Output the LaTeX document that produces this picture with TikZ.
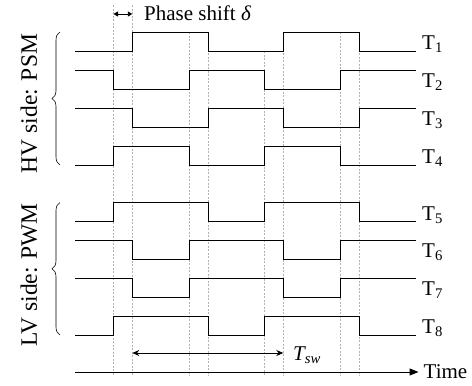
\documentclass[tikz,border=0pt]{standalone}
\usepackage{fontspec}
\setmainfont{Liberation Serif}
\usetikzlibrary{arrows.meta,decorations.pathreplacing}
\begin{document}
\begin{tikzpicture}[x=1pt,y=-1pt,
  sig/.style={line width=1pt,black},
  guide/.style={gray!60,line width=0.5pt,dash pattern=on 2pt off 1.5pt},
  lbl/.style={anchor=west,inner sep=0pt,font=\fontsize{21}{23}\selectfont},
  side/.style={rotate=90,inner sep=0pt,font=\fontsize{23.5}{26}\selectfont},
  bracestyle/.style={decorate,decoration={brace,amplitude=8pt},line width=0.6pt}]
\useasboundingbox (0,0) rectangle (472,386);
% edge positions
\def\xa{113.5}\def\xb{132.3}\def\xc{189}\def\xd{208.3}
\def\xe{264.5}\def\xf{283.3}\def\xg{340}\def\xh{359.3}
\def\xs{75}\def\xt{416}
% guide lines
\draw[guide] (\xa,5) -- (\xa,376);
\draw[guide] (\xb,5) -- (\xb,376);
\draw[guide] (\xc,32) -- (\xc,376);
\draw[guide] (\xd,32) -- (\xd,376);
\draw[guide] (\xe,51) -- (\xe,376);
\draw[guide] (\xf,32) -- (\xf,376);
\draw[guide] (\xg,32) -- (\xg,376);
\draw[guide] (\xh,32) -- (\xh,376);
% T1: low, rise b, fall d, rise f, fall h
\draw[sig] (\xs,51) -| (\xb,32) -| (\xd,51) -| (\xf,32) -| (\xh,51) -- (\xt,51);
% T2: high, fall a, rise c, fall e, rise g
\draw[sig] (\xs,70) -| (\xa,89) -| (\xc,70) -| (\xe,89) -| (\xg,70) -- (\xt,70);
% T3
\draw[sig] (\xs,108) -| (\xb,127) -| (\xd,108) -| (\xf,127) -| (\xh,108) -- (\xt,108);
% T4
\draw[sig] (\xs,165) -| (\xa,146) -| (\xc,165) -| (\xe,146) -| (\xg,165) -- (\xt,165);
% T5: low, rise a, fall d, rise e, fall h
\draw[sig] (\xs,221.5) -| (\xa,202.5) -| (\xd,221.5) -| (\xe,202.5) -| (\xh,221.5) -- (\xt,221.5);
% T6: high, fall b, rise c, fall f, rise g
\draw[sig] (\xs,240) -| (\xb,259) -| (\xc,240) -| (\xf,259) -| (\xg,240) -- (\xt,240);
% T7
\draw[sig] (\xs,278) -| (\xb,297) -| (\xc,278) -| (\xf,297) -| (\xg,278) -- (\xt,278);
% T8
\draw[sig] (\xs,335) -| (\xa,316) -| (\xd,335) -| (\xe,316) -| (\xh,335) -- (\xt,335);
% labels
\node[lbl] (l1) at (422,44) {T\textsubscript{1}};
\node[lbl] (l2) at (422,82.5) {T\textsubscript{2}};
\node[lbl] (l3) at (422,120.5) {T\textsubscript{3}};
\node[lbl] (l4) at (422,158.5) {T\textsubscript{4}};
\node[lbl] (l5) at (422,215) {T\textsubscript{5}};
\node[lbl] (l6) at (422,252.5) {T\textsubscript{6}};
\node[lbl] (l7) at (422,290.5) {T\textsubscript{7}};
\node[lbl] (l8) at (422,328.5) {T\textsubscript{8}};
% phase shift
\coordinate (pa) at (\xa,14);
\coordinate (pb) at (\xb,14);
\draw[line width=0.9pt,{Triangle[length=4.5pt,width=5pt]}-{Triangle[length=4.5pt,width=5pt]}] (pa) -- (pb);
\node[lbl] (ps) at (144,13) {Phase shift {\itshape δ}};
% Tsw
\coordinate (ta) at (\xb,353);
\coordinate (tb) at (\xf,353);
\draw[line width=0.9pt,{Stealth[length=7pt,width=6pt]}-{Stealth[length=7pt,width=6pt]}] (ta) -- (tb);
\node[lbl] (tsw) at (293,355) {{\itshape T}\textsubscript{\itshape sw}};
% time axis
\node[lbl] (time) at (423.5,371.5) {Time};
\coordinate (t0) at (\xs,372);
\draw[line width=1pt,-{Triangle[length=9pt,width=7pt]},shorten >=5pt] (t0) -- (t0 -| time.west);
% braces and side labels
\draw[bracestyle] (60,165) -- (60,32);
\draw[bracestyle] (60,335) -- (60,202.5);
\node[side] (hv) at (29,103.5) {HV side: PSM};
\node[side] (lv) at (29,275) {LV side: PWM};
\end{tikzpicture}
\end{document}
